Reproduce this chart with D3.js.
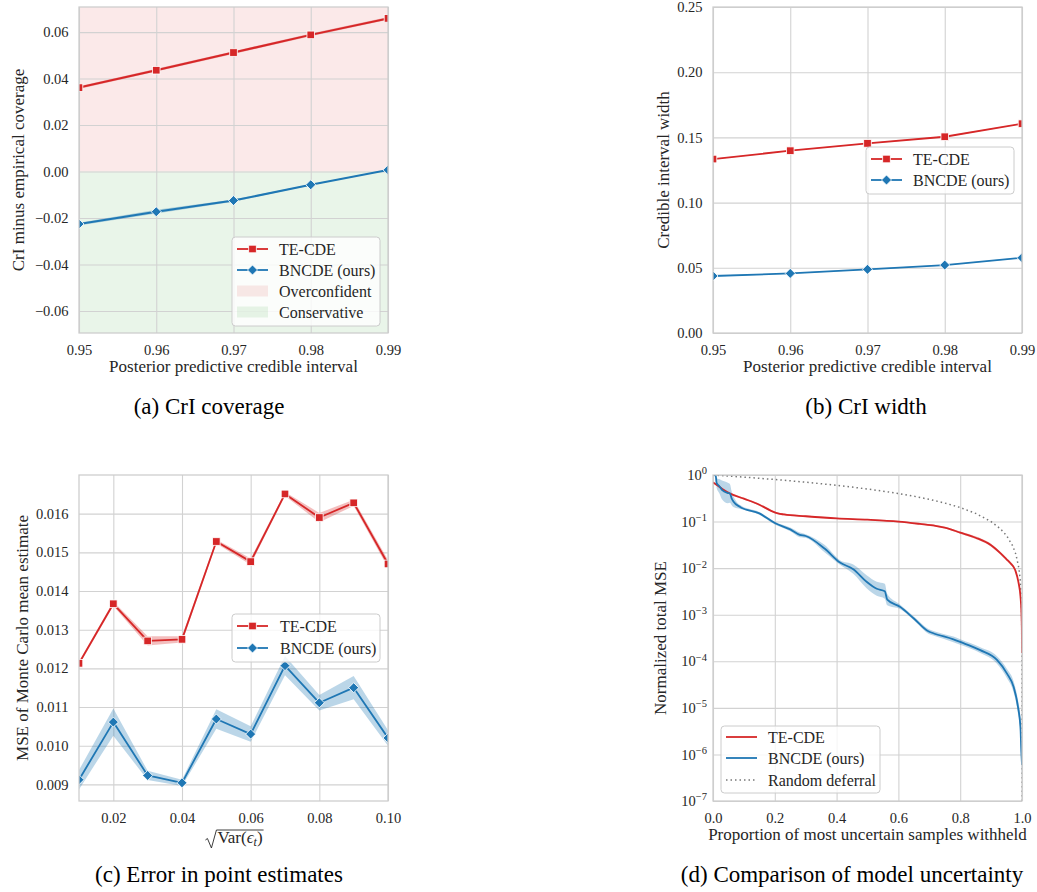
<!DOCTYPE html>
<html><head><meta charset="utf-8">
<script src="https://cdn.jsdelivr.net/npm/d3@7"></script>
<style>body{margin:0;background:#fff}svg{display:block}</style>
</head><body><svg id="c" width="1037" height="892"></svg>
<script>
// ---------- DATA ----------
// (a) CrI coverage
const crLevels = [0.95, 0.96, 0.97, 0.98, 0.99];
const covTE = [0.0361, 0.0436, 0.0512, 0.0588, 0.0659];
const covTEErr = [0.0006, 0.0006, 0.0006, 0.0006, 0.0006];
const covBN = [-0.0226, -0.0173, -0.0125, -0.0057, 0.0007];
const covBNErr = [0.0006, 0.0008, 0.0005, 0.0002, 0.0002];
const covYTicks = [-0.06, -0.04, -0.02, 0.00, 0.02, 0.04, 0.06];
// (b) CrI width
const widTE = [0.1334, 0.1398, 0.1454, 0.1505, 0.1605];
const widBN = [0.0437, 0.0457, 0.0488, 0.0521, 0.0577];
const widErr = [0.0003, 0.0003, 0.0003, 0.0003, 0.0003];
const widYTicks = [0.00, 0.05, 0.10, 0.15, 0.20, 0.25];
// (c) Error in point estimates
const noiseSd = [0.01, 0.02, 0.03, 0.04, 0.05, 0.06, 0.07, 0.08, 0.09, 0.10];
const mseTE = [0.01213, 0.01367, 0.01271, 0.01275, 0.01528, 0.01476, 0.01651, 0.01590, 0.01628, 0.01470];
const mseTEErr = [0.00005, 0.00006, 0.00012, 0.00008, 0.00005, 0.00008, 0.00005, 0.00012, 0.00008, 0.00010];
const mseBN = [0.00912, 0.01061, 0.00923, 0.00904, 0.01069, 0.01030, 0.01207, 0.01111, 0.01150, 0.01020];
const mseBNErr = [0.00025, 0.00035, 0.00012, 0.00008, 0.00025, 0.00020, 0.00025, 0.00020, 0.00030, 0.00020];
const noiseXTicks = [0.02, 0.04, 0.06, 0.08, 0.10];
const mseYTicks = [0.009, 0.010, 0.011, 0.012, 0.013, 0.014, 0.015, 0.016];
// (d) Comparison of model uncertainty
const pTE = [0, 0.011, 0.03, 0.055, 0.1, 0.15, 0.19, 0.21, 0.23, 0.3, 0.4, 0.5, 0.6, 0.67, 0.72, 0.75, 0.8, 0.85, 0.9, 0.93, 0.95, 0.962, 0.978, 0.989, 0.995, 0.998, 0.9995, 1.0];
const defTE = [0.69, 0.62, 0.50, 0.40, 0.31, 0.23, 0.168, 0.15, 0.142, 0.13, 0.117, 0.11, 0.10, 0.089, 0.081, 0.074, 0.058, 0.045, 0.031, 0.021, 0.0155, 0.0129, 0.0091, 0.0048, 0.0025, 0.0012, 0.0005, 0.00015];
const defTEBandDec = [0.02, 0.02, 0.02, 0.02, 0.02, 0.02, 0.02, 0.02, 0.02, 0.015, 0.015, 0.015, 0.015, 0.015, 0.02, 0.02, 0.025, 0.03, 0.03, 0.03, 0.03, 0.03, 0.03, 0.04, 0.05, 0.08, 0.1, 0.2];
const pBN = [0.004, 0.009, 0.0115, 0.02, 0.029, 0.048, 0.055, 0.06, 0.066, 0.089, 0.15, 0.2, 0.25, 0.281, 0.3, 0.362, 0.411, 0.454, 0.497, 0.53, 0.556, 0.564, 0.605, 0.65, 0.697, 0.713, 0.778, 0.8, 0.865, 0.919, 0.951, 0.973, 0.987, 0.995, 0.998, 1.0];
const defBN = [1.0, 0.95, 0.68, 0.58, 0.48, 0.41, 0.40, 0.32, 0.27, 0.204, 0.15, 0.093, 0.068, 0.052, 0.049, 0.026, 0.0132, 0.0095, 0.0051, 0.0036, 0.0032, 0.0021, 0.00148, 0.00083, 0.00044, 0.0004, 0.000295, 0.00026, 0.000174, 0.000107, 0.000055, 0.000028, 0.0000105, 0.0000039, 0.0000011, 0.0000006];
const defBNBandDec = [0.02, 0.05, 0.1, 0.15, 0.2, 0.22, 0.2, 0.15, 0.12, 0.04, 0.03, 0.03, 0.04, 0.05, 0.04, 0.08, 0.05, 0.1, 0.14, 0.15, 0.16, 0.12, 0.05, 0.04, 0.05, 0.05, 0.06, 0.06, 0.06, 0.08, 0.1, 0.12, 0.15, 0.2, 0.25, 0.3];
const pRand = [0, 0.05, 0.1, 0.15, 0.2, 0.25, 0.3, 0.35, 0.4, 0.45, 0.5, 0.55, 0.6, 0.65, 0.7, 0.75, 0.8, 0.85, 0.9, 0.93, 0.95, 0.97, 0.98, 0.99, 0.995, 0.998, 0.999, 1.0];
const defRand = [1, 0.95, 0.9, 0.85, 0.8, 0.75, 0.7, 0.65, 0.6, 0.55, 0.5, 0.45, 0.4, 0.35, 0.3, 0.25, 0.2, 0.15, 0.1, 0.07, 0.05, 0.03, 0.02, 0.01, 0.005, 0.002, 0.001, 1e-7];
const propXTicks = [0, 0.2, 0.4, 0.6, 0.8, 1.0];
const logYTicks = [1e-7, 1e-6, 1e-5, 1e-4, 1e-3, 1e-2, 1e-1, 1];
const logYExp = ["−7", "−6", "−5", "−4", "−3", "−2", "−1", "0"];

const seriesNames = ["TE-CDE", "BNCDE (ours)"];
const captions = ["(a) CrI coverage", "(b) CrI width", "(c) Error in point estimates", "(d) Comparison of model uncertainty"];

// ---------- STYLE ----------
const FONT = '"Liberation Serif","Times New Roman",serif';
const RED = "#d62728", BLUE = "#1f77b4", GREEN = "#2ca02c", GRID = "#d2d2d2", TXT = "#262626";
const svg = d3.select("#c");
const defs = svg.append("defs");

function panel(o) {
  const {L, R, T, B, name} = o;
  const x = o.x.range([L, R]);
  const y = o.y.range([B, T]);
  const g = svg.append("g");
  defs.append("clipPath").attr("id", "clip" + name).append("rect")
    .attr("x", L).attr("y", T).attr("width", R - L).attr("height", B - T);
  if (o.bg) o.bg(g, x, y);
  const xa = g.append("g").attr("transform", `translate(0,${B})`)
    .call(d3.axisBottom(x).tickValues(o.xticks).tickFormat(o.xfmt).tickSize(-(B - T)).tickPadding(o.xpad || 11.5));
  const ya = g.append("g").attr("transform", `translate(${L},0)`)
    .call(d3.axisLeft(y).tickValues(o.yticks).tickFormat(o.yfmt).tickSize(-(R - L)).tickPadding(o.ypad || 10.5));
  [xa, ya].forEach(a => {
    a.select(".domain").remove();
    a.selectAll("line").attr("stroke", GRID).attr("stroke-width", 1.1);
    a.selectAll("text").attr("font-family", FONT).attr("font-size", 14.5).attr("fill", TXT);
  });
  const data = g.append("g").attr("clip-path", `url(#clip${name})`);
  g.append("rect").attr("x", L).attr("y", T).attr("width", R - L).attr("height", B - T)
    .attr("fill", "none").attr("stroke", "#cccccc").attr("stroke-width", 1.25);
  if (o.xlabel) g.append("text").attr("x", (L + R) / 2).attr("y", o.xlabY).attr("text-anchor", "middle")
    .attr("font-family", FONT).attr("font-size", 17).attr("fill", TXT).text(o.xlabel);
  g.append("text").attr("transform", `translate(${o.ylabX},${(T + B) / 2}) rotate(-90)`).attr("dy", "0.35em")
    .attr("text-anchor", "middle").attr("font-family", FONT).attr("font-size", 17).attr("fill", TXT).text(o.ylabel);
  return {g, data, x, y, xa, ya};
}

function band(layer, xs, lo, hi, x, y, color, curve) {
  const pts = xs.map((v, i) => ({x: v, lo: lo[i], hi: hi[i]}));
  layer.append("path").datum(pts)
    .attr("d", d3.area().curve(curve || d3.curveLinear).x(d => x(d.x)).y0(d => y(d.lo)).y1(d => y(d.hi)))
    .attr("fill", color).attr("fill-opacity", 0.3).attr("stroke", "none");
}
function line(layer, xs, ys, x, y, color, w, dash, curve) {
  const pts = xs.map((v, i) => [v, ys[i]]);
  layer.append("path").datum(pts)
    .attr("d", d3.line().curve(curve || d3.curveLinear).x(d => x(d[0])).y(d => y(d[1])))
    .attr("fill", "none").attr("stroke", color).attr("stroke-width", w || 1.8)
    .attr("stroke-dasharray", dash || null).attr("stroke-linejoin", "round");
}
function marker(layer, cx, cy, color, kind) {
  if (kind === "square") {
    layer.append("rect").attr("x", cx - 3.8).attr("y", cy - 3.8).attr("width", 7.6).attr("height", 7.6)
      .attr("fill", color).attr("stroke", "#fff").attr("stroke-width", 0.8);
  } else {
    layer.append("path").attr("d", d3.symbol(d3.symbolSquare, 50)())
      .attr("transform", `translate(${cx},${cy}) rotate(45)`)
      .attr("fill", color).attr("stroke", "#fff").attr("stroke-width", 0.8);
  }
}
function markers(layer, xs, ys, x, y, color, kind) {
  xs.forEach((v, i) => marker(layer, x(v), y(ys[i]), color, kind));
}
function legend(bx, by, bw, bh, rows, handleX, textX) {
  const g = svg.append("g");
  g.append("rect").attr("x", bx).attr("y", by).attr("width", bw).attr("height", bh).attr("rx", 3.5)
    .attr("fill", "#fff").attr("fill-opacity", 0.8).attr("stroke", "#cccccc").attr("stroke-width", 1);
  rows.forEach(r => {
    if (r.patch) {
      g.append("rect").attr("x", handleX).attr("y", r.y - 5.5).attr("width", 31).attr("height", 11)
        .attr("fill", r.color).attr("fill-opacity", 0.1);
    } else {
      g.append("line").attr("x1", handleX).attr("x2", handleX + 31).attr("y1", r.y).attr("y2", r.y)
        .attr("stroke", r.color).attr("stroke-width", r.dash ? 1.5 : 1.8).attr("stroke-dasharray", r.dash || null);
      if (r.marker) marker(g, handleX + 15.5, r.y, r.color, r.marker);
    }
    g.append("text").attr("x", textX).attr("y", r.y).attr("dy", "0.35em").attr("font-family", FONT)
      .attr("font-size", 16).attr("fill", TXT).text(r.label);
  });
}
const f2 = d => d3.format(".2f")(d).replace("-", "−");
const f3 = d => d3.format(".3f")(d);

// ---------- (a) ----------
const A = panel({
  name: "a", L: 79, R: 388, T: 7, B: 333,
  x: d3.scaleLinear().domain([0.95, 0.99]), y: d3.scaleLinear().domain([-0.0695, 0.0708]),
  xticks: crLevels, yticks: covYTicks, xfmt: f2, yfmt: f2,
  xlabel: "Posterior predictive credible interval", xlabY: 372,
  ylabel: "CrI minus empirical coverage", ylabX: 18,
  bg: (g, x, y) => {
    const [y0, y1] = y.domain();
    g.append("rect").attr("x", x.range()[0]).attr("width", x.range()[1] - x.range()[0])
      .attr("y", y(y1)).attr("height", y(0) - y(y1)).attr("fill", RED).attr("fill-opacity", 0.1);
    g.append("rect").attr("x", x.range()[0]).attr("width", x.range()[1] - x.range()[0])
      .attr("y", y(0)).attr("height", y(y0) - y(0)).attr("fill", GREEN).attr("fill-opacity", 0.1);
  }
});
band(A.data, crLevels, covTE.map((v, i) => v - covTEErr[i]), covTE.map((v, i) => v + covTEErr[i]), A.x, A.y, RED);
band(A.data, crLevels, covBN.map((v, i) => v - covBNErr[i]), covBN.map((v, i) => v + covBNErr[i]), A.x, A.y, BLUE);
line(A.data, crLevels, covTE, A.x, A.y, RED, 2);
line(A.data, crLevels, covBN, A.x, A.y, BLUE, 2);
markers(A.data, crLevels, covTE, A.x, A.y, RED, "square");
markers(A.data, crLevels, covBN, A.x, A.y, BLUE, "diamond");
legend(232, 237, 148, 89, [
  {y: 249, color: RED, marker: "square", label: seriesNames[0]},
  {y: 270, color: BLUE, marker: "diamond", label: seriesNames[1]},
  {y: 291, color: RED, patch: true, label: "Overconfident"},
  {y: 312, color: GREEN, patch: true, label: "Conservative"}
], 237, 279);

// ---------- (b) ----------
const Bp = panel({
  name: "b", L: 713, R: 1022, T: 7, B: 333,
  x: d3.scaleLinear().domain([0.95, 0.99]), y: d3.scaleLinear().domain([0, 0.25]),
  xticks: crLevels, yticks: widYTicks, xfmt: f2, yfmt: f2,
  xlabel: "Posterior predictive credible interval", xlabY: 372,
  ylabel: "Credible interval width", ylabX: 663
});
band(Bp.data, crLevels, widTE.map((v, i) => v - widErr[i]), widTE.map((v, i) => v + widErr[i]), Bp.x, Bp.y, RED);
band(Bp.data, crLevels, widBN.map((v, i) => v - widErr[i]), widBN.map((v, i) => v + widErr[i]), Bp.x, Bp.y, BLUE);
line(Bp.data, crLevels, widTE, Bp.x, Bp.y, RED);
line(Bp.data, crLevels, widBN, Bp.x, Bp.y, BLUE);
markers(Bp.data, crLevels, widTE, Bp.x, Bp.y, RED, "square");
markers(Bp.data, crLevels, widBN, Bp.x, Bp.y, BLUE, "diamond");
legend(866, 147, 148, 47, [
  {y: 159, color: RED, marker: "square", label: seriesNames[0]},
  {y: 180, color: BLUE, marker: "diamond", label: seriesNames[1]}
], 871, 913);

// ---------- (c) ----------
const C = panel({
  name: "c", L: 79, R: 388, T: 475, B: 801,
  x: d3.scaleLinear().domain([0.01, 0.10]), y: d3.scaleLinear().domain([0.00857, 0.0170]),
  xticks: noiseXTicks, yticks: mseYTicks, xfmt: f2, yfmt: f3,
  ylabel: "MSE of Monte Carlo mean estimate", ylabX: 22
});
band(C.data, noiseSd, mseTE.map((v, i) => v - mseTEErr[i]), mseTE.map((v, i) => v + mseTEErr[i]), C.x, C.y, RED);
band(C.data, noiseSd, mseBN.map((v, i) => v - mseBNErr[i]), mseBN.map((v, i) => v + mseBNErr[i]), C.x, C.y, BLUE);
line(C.data, noiseSd, mseTE, C.x, C.y, RED);
line(C.data, noiseSd, mseBN, C.x, C.y, BLUE);
markers(C.data, noiseSd, mseTE, C.x, C.y, RED, "square");
markers(C.data, noiseSd, mseBN, C.x, C.y, BLUE, "diamond");
legend(232, 614, 148, 48, [
  {y: 626, color: RED, marker: "square", label: seriesNames[0]},
  {y: 648, color: BLUE, marker: "diamond", label: seriesNames[1]}
], 237, 280);
// x label: sqrt(Var(eps_t))
{
  const t = C.g.append("text").attr("x", 240).attr("y", 843).attr("text-anchor", "middle")
    .attr("font-family", FONT).attr("font-size", 17).attr("fill", TXT);
  t.append("tspan").text("Var(");
  t.append("tspan").attr("font-style", "italic").text("ϵ");
  t.append("tspan").attr("font-size", 12).attr("dy", 3).attr("font-style", "italic").text("t");
  t.append("tspan").attr("dy", -3).text(")");
  const bb = t.node().getBBox();
  const x0 = bb.x - 1, x1 = bb.x + bb.width + 1, top = 830;
  C.g.append("path")
    .attr("d", `M${x0 - 11},${top + 10} L${x0 - 9},${top + 8.5} L${x0 - 5},${top + 18} L${x0},${top} L${x1},${top}`)
    .attr("fill", "none").attr("stroke", TXT).attr("stroke-width", 0.9);
}

// ---------- (d) ----------
const D = panel({
  name: "d", L: 713, R: 1022, T: 475, B: 801,
  x: d3.scaleLinear().domain([0, 1]), y: d3.scaleLog().domain([1e-7, 1]),
  xticks: propXTicks, yticks: logYTicks, xfmt: d3.format(".1f"), yfmt: () => "",
  xlabel: "Proportion of most uncertain samples withheld", xlabY: 840,
  ylabel: "Normalized total MSE", ylabX: 660, ypad: 6
});
D.ya.selectAll(".tick text").each(function(d, i) {
  const t = d3.select(this);
  t.text("");
  t.append("tspan").text("10");
  t.append("tspan").attr("dy", "-0.55em").attr("font-size", 10.5).text(logYExp[i]);
});
const mono = d3.curveMonotoneX;
band(D.data, pTE, defTE.map((v, i) => v / Math.pow(10, defTEBandDec[i])), defTE.map((v, i) => v * Math.pow(10, defTEBandDec[i])), D.x, D.y, RED, mono);
band(D.data, pBN, defBN.map((v, i) => v / Math.pow(10, defBNBandDec[i])), defBN.map((v, i) => v * Math.pow(10, defBNBandDec[i])), D.x, D.y, BLUE, mono);
line(D.data, pRand, defRand, D.x, D.y, "#777", 1.5, "1.5,3");
line(D.data, pTE, defTE, D.x, D.y, RED, 1.8, null, mono);
line(D.data, pBN, defBN, D.x, D.y, BLUE, 1.8, null, mono);
legend(721, 726, 159, 67, [
  {y: 737, color: RED, label: seriesNames[0]},
  {y: 758, color: BLUE, label: seriesNames[1]},
  {y: 780, color: "#777", dash: "1.5,3", label: "Random deferral"}
], 726, 768);

// ---------- captions ----------
[[209, 414], [866, 414], [219, 882], [852, 882]].forEach((p, i) => {
  svg.append("text").attr("x", p[0]).attr("y", p[1]).attr("text-anchor", "middle")
    .attr("font-family", FONT).attr("font-size", 23).attr("fill", "#000").text(captions[i]);
});
</script></body></html>
